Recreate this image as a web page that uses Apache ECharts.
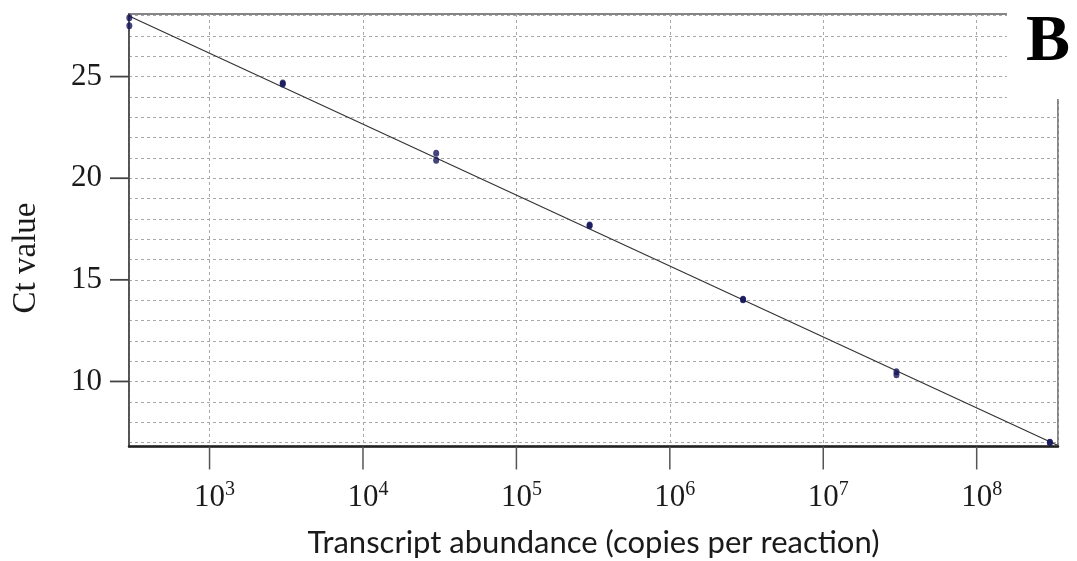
<!DOCTYPE html>
<html>
<head>
<meta charset="utf-8">
<script src="https://cdn.jsdelivr.net/npm/echarts@6/dist/echarts.min.js"></script>
<style>html,body{margin:0;padding:0;background:#fff}#c{width:1077px;height:561px}</style>
</head>
<body>
<div id="c"></div>
<script>
// Data (copies per reaction, Ct value)
const copies = [300, 300, 3000, 3000, 30000, 30000, 300000, 300000, 3000000, 3000000, 30000000, 30000000, 300000000, 300000000];
const ctValues = [27.9, 27.5, 24.68, 24.64, 21.23, 20.89, 17.70, 17.66, 14.04, 14.02, 10.48, 10.33, 7.01, 7.0];
// Standard curve fit: Ct = fitIntercept + fitSlope * log10(copies)
const fitSlope = -3.49;
const fitIntercept = 36.62;
const xTickExponents = [3, 4, 5, 6, 7, 8];
const yTickValues = [10, 15, 20, 25];
const yGridValues = [7, 8, 9, 10, 11, 12, 13, 14, 15, 16, 17, 18, 19, 20, 21, 22, 23, 24, 25, 26, 27, 28];
const xMin = 2.475, xMax = 8.53, yMin = 6.8, yMax = 28.08;

const pts = copies.map((c, i) => [Math.log10(c), ctValues[i]]);
const fitLine = [xMin, xMax].map(x => [x, fitIntercept + fitSlope * x]);

const chart = echarts.init(document.getElementById('c'));
const serif = 'Liberation Serif';

chart.setOption({
  animation: false,
  backgroundColor: '#fff',
  grid: { left: 129, right: 19, top: 14, bottom: 114.5, outerBoundsMode: 'none', containLabel: false,
          show: true, borderColor: '#858585', borderWidth: 2 },
  xAxis: {
    type: 'value', min: xMin, max: xMax,
    name: 'Transcript abundance (copies per reaction)',
    nameLocation: 'middle', nameGap: 81,
    nameTextStyle: { fontFamily: 'Lato', fontSize: 31, color: '#1a1a1a' },
    axisLine: { show: true, onZero: false, lineStyle: { color: '#222', width: 2.5 } },
    axisTick: { show: false },
    axisLabel: {
      customValues: xTickExponents, margin: 33,
      formatter: v => '{b|10}{s|' + Math.round(v) + '}',
      rich: {
        b: { fontFamily: serif, fontSize: 31, color: '#1a1a1a', lineHeight: 34, verticalAlign: 'bottom', padding: [0, 0, 0, 10] },
        s: { fontFamily: serif, fontSize: 20, color: '#1a1a1a', lineHeight: 34, verticalAlign: 'top', padding: [0, 0, 14, 0] }
      }
    },
    splitLine: { show: true, lineStyle: { color: '#a8a8a8', type: [3, 3], width: 1 } }
  },
  yAxis: [{
    type: 'value', min: yMin, max: yMax,
    axisLine: { show: true, onZero: false, lineStyle: { color: '#444', width: 1.5 } },
    axisTick: { show: false },
    axisLabel: { customValues: yTickValues, margin: 27, fontFamily: serif, fontSize: 31, color: '#1a1a1a' },
    splitLine: { show: false }
  }, {
    type: 'value', min: yMin, max: yMax, position: 'left',
    axisLine: { show: false }, axisLabel: { show: false },
    axisTick: { show: false, customValues: yGridValues },
    splitLine: { show: true, lineStyle: { color: '#a8a8a8', type: [3, 3], width: 1 } }
  }],
  series: [
    { type: 'line', data: fitLine, showSymbol: false, symbol: 'none', lineStyle: { color: '#333', width: 1.2 }, z: 2 },
    { type: 'scatter', data: pts, symbol: 'circle', symbolSize: [6, 7], itemStyle: { color: '#15155c' }, z: 3 }
  ]
});

// Outward tick marks placed through the chart's own cartesian scale
const finder = { xAxisIndex: 0, yAxisIndex: 0 };
const gfx = [
  { type: 'rect', z: 100, shape: { x: 1007, y: 0, width: 70, height: 99 }, style: { fill: '#fff' } },
  { type: 'text', z: 101, left: 1026, top: 10, style: { text: 'B', font: 'bold 66px "Liberation Serif"', fill: '#000' } },
  { type: 'text', z: 101, x: 26, y: 258, rotation: Math.PI / 2,
    style: { text: 'Ct value', font: '33px "Liberation Serif"', fill: '#1a1a1a', align: 'center', verticalAlign: 'middle' } }
];
xTickExponents.forEach(e => {
  const p = chart.convertToPixel(finder, [e, yMin]);
  gfx.push({ type: 'rect', z: 50, shape: { x: p[0] - 0.75, y: p[1], width: 1.5, height: 23 }, style: { fill: '#555' } });
});
yTickValues.forEach(v => {
  const p = chart.convertToPixel(finder, [xMin, v]);
  gfx.push({ type: 'rect', z: 50, shape: { x: p[0] - 19, y: p[1] - 0.9, width: 19, height: 1.8 }, style: { fill: '#444' } });
});
chart.setOption({ graphic: gfx });
</script>
</body>
</html>
